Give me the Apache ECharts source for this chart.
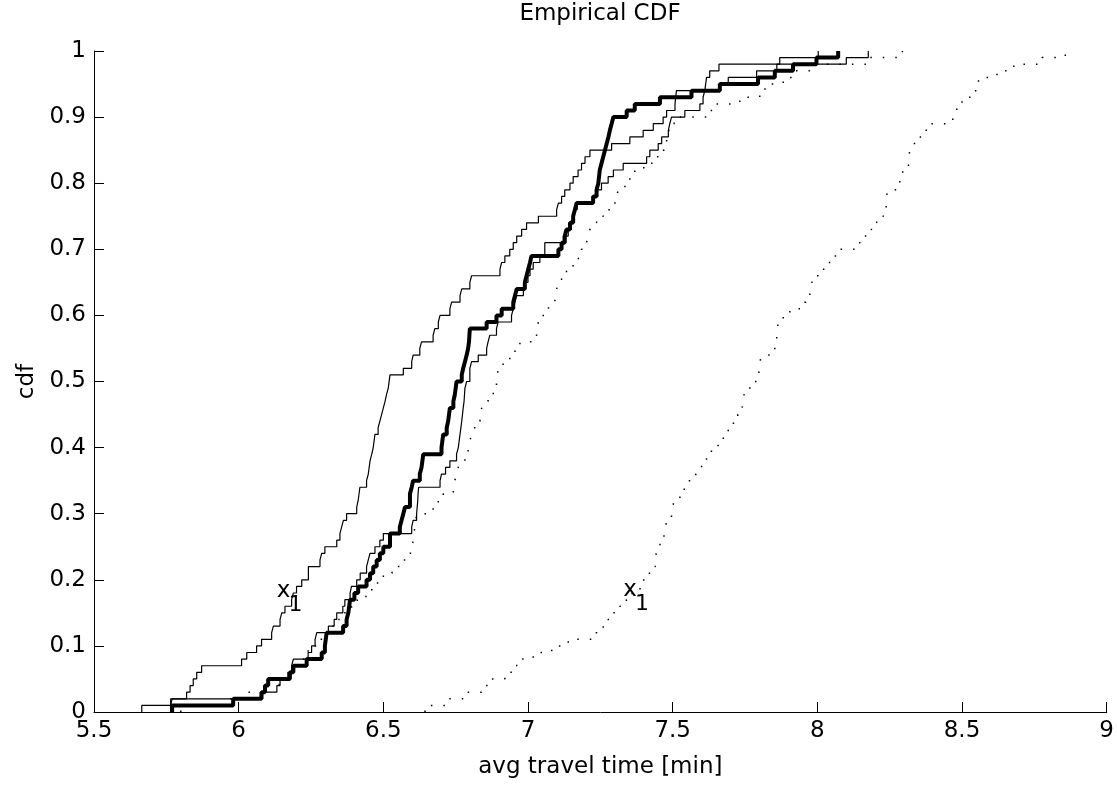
<!DOCTYPE html>
<html>
<head>
<meta charset="utf-8">
<title>Empirical CDF</title>
<script src="https://cdn.jsdelivr.net/npm/echarts@6/dist/echarts.min.js"></script>
<style>
  html, body { margin: 0; padding: 0; background: #fff; }
  #chart { width: 1117px; height: 785px; }
</style>
</head>
<body>
<div id="chart"></div>
<script>
// step corners [x, F(x)], one array per curve
const thinLeft = [
  [5.665,0.01],[5.765,0.02],[5.82,0.03],[5.832,0.04],[5.843,0.05],[5.855,0.06],[5.872,0.07],[6.01,0.08],
  [6.028,0.09],[6.062,0.10],[6.079,0.11],[6.114,0.12],[6.12,0.13],[6.143,0.14],[6.149,0.15],[6.16,0.16],
  [6.183,0.17],[6.189,0.18],[6.2,0.19],[6.218,0.20],[6.241,0.22],[6.281,0.23],[6.287,0.24],[6.298,0.25],
  [6.339,0.26],[6.35,0.27],[6.356,0.28],[6.362,0.29],[6.373,0.30],[6.408,0.31],[6.413,0.32],[6.419,0.34],
  [6.442,0.35],[6.448,0.36],[6.454,0.38],[6.46,0.39],[6.465,0.40],[6.471,0.42],[6.482,0.43],[6.488,0.44],
  [6.494,0.45],[6.5,0.46],[6.506,0.47],[6.511,0.48],[6.517,0.49],[6.523,0.51],[6.569,0.52],[6.598,0.53],
  [6.603,0.54],[6.626,0.55],[6.632,0.56],[6.672,0.57],[6.678,0.58],[6.69,0.59],[6.696,0.60],[6.73,0.61],
  [6.736,0.62],[6.765,0.63],[6.771,0.64],[6.799,0.65],[6.805,0.66],[6.903,0.67],[6.909,0.68],[6.92,0.69],
  [6.937,0.70],[6.949,0.71],[6.961,0.72],[6.978,0.73],[6.995,0.74],[7.036,0.75],[7.099,0.76],[7.105,0.77],
  [7.116,0.78],[7.127,0.79],[7.145,0.80],[7.156,0.81],[7.173,0.82],[7.185,0.83],[7.197,0.84],[7.214,0.85],
  [7.289,0.86],[7.352,0.87],[7.398,0.88],[7.433,0.89],[7.467,0.90],[7.479,0.91],[7.508,0.92],[7.513,0.94],
  [7.663,0.95],[7.692,0.96],[7.79,0.97],[7.86,0.98],[8.10,0.99],[8.176,1.0]
];
const thickMain = [
  [5.77,0.01],[5.981,0.02],[6.079,0.03],[6.091,0.04],[6.102,0.05],[6.177,0.06],[6.189,0.07],[6.235,0.08],
  [6.287,0.09],[6.298,0.10],[6.301,0.11],[6.304,0.12],[6.361,0.13],[6.373,0.14],[6.379,0.15],[6.382,0.16],
  [6.385,0.17],[6.40,0.18],[6.413,0.19],[6.442,0.20],[6.454,0.21],[6.465,0.22],[6.477,0.23],[6.488,0.24],
  [6.50,0.25],[6.523,0.27],[6.557,0.28],[6.563,0.29],[6.569,0.30],[6.575,0.31],[6.592,0.33],[6.598,0.34],
  [6.603,0.35],[6.626,0.36],[6.632,0.37],[6.638,0.39],[6.701,0.40],[6.707,0.42],[6.719,0.43],[6.724,0.44],
  [6.73,0.46],[6.742,0.47],[6.747,0.48],[6.753,0.50],[6.771,0.51],[6.776,0.52],[6.782,0.53],[6.788,0.54],
  [6.793,0.55],[6.796,0.56],[6.799,0.58],[6.857,0.59],[6.891,0.60],[6.909,0.61],[6.949,0.62],[6.955,0.63],
  [6.961,0.64],[6.989,0.65],[6.995,0.66],[7.001,0.67],[7.007,0.68],[7.012,0.69],[7.105,0.70],[7.116,0.71],
  [7.127,0.72],[7.133,0.73],[7.145,0.74],[7.156,0.75],[7.162,0.76],[7.168,0.77],[7.225,0.78],[7.237,0.79],
  [7.243,0.80],[7.248,0.82],[7.254,0.83],[7.26,0.84],[7.266,0.85],[7.272,0.86],[7.278,0.87],[7.283,0.88],
  [7.289,0.89],[7.295,0.90],[7.341,0.91],[7.369,0.92],[7.456,0.93],[7.565,0.94],[7.663,0.95],[7.795,0.96],
  [7.853,0.97],[7.916,0.98],[7.997,0.99],[8.072,1.0]
];
const thinNear = [
  [5.765,0.01],[5.77,0.02],[6.075,0.03],[6.132,0.04],[6.143,0.05],[6.17,0.06],[6.183,0.07],[6.189,0.08],
  [6.24,0.09],[6.252,0.10],[6.264,0.11],[6.27,0.12],[6.31,0.13],[6.33,0.14],[6.339,0.15],[6.36,0.16],
  [6.367,0.17],[6.385,0.18],[6.39,0.19],[6.408,0.20],[6.42,0.21],[6.442,0.22],[6.448,0.23],[6.454,0.24],
  [6.471,0.25],[6.488,0.26],[6.50,0.27],[6.598,0.28],[6.603,0.29],[6.615,0.30],[6.617,0.31],[6.619,0.32],
  [6.62,0.33],[6.622,0.34],[6.696,0.35],[6.701,0.36],[6.715,0.37],[6.73,0.38],[6.753,0.39],[6.759,0.40],
  [6.765,0.42],[6.771,0.44],[6.776,0.46],[6.779,0.47],[6.782,0.49],[6.788,0.50],[6.799,0.52],[6.805,0.53],
  [6.828,0.54],[6.857,0.55],[6.862,0.56],[6.868,0.57],[6.891,0.58],[6.897,0.59],[6.943,0.60],[6.949,0.61],
  [6.955,0.62],[6.961,0.63],[6.984,0.64],[6.99,0.65],[7.0,0.66],[7.007,0.67],[7.018,0.68],[7.041,0.69],
  [7.058,0.71],[7.122,0.72],[7.139,0.73],[7.15,0.74],[7.156,0.75],[7.162,0.76],[7.17,0.77],[7.225,0.78],
  [7.24,0.79],[7.254,0.80],[7.277,0.81],[7.295,0.82],[7.329,0.83],[7.41,0.84],[7.421,0.85],[7.45,0.86],
  [7.462,0.87],[7.485,0.88],[7.49,0.89],[7.496,0.90],[7.542,0.91],[7.594,0.92],[7.605,0.93],[7.611,0.94],
  [7.614,0.95],[7.617,0.96],[7.628,0.97],[7.66,0.98],[7.87,0.99],[8.003,1.0]
];
const dotNear = [
  [5.80,0.01],[5.96,0.02],[6.03,0.03],[6.10,0.04],[6.14,0.05],[6.17,0.06],[6.19,0.07],[6.21,0.08],
  [6.225,0.09],[6.24,0.10],[6.27,0.11],[6.29,0.12],[6.31,0.13],[6.34,0.14],[6.36,0.15],[6.39,0.16],
  [6.41,0.17],[6.44,0.18],[6.46,0.19],[6.48,0.20],[6.50,0.21],[6.53,0.22],[6.557,0.23],[6.58,0.24],
  [6.598,0.25],[6.604,0.26],[6.606,0.27],[6.609,0.28],[6.612,0.29],[6.615,0.30],[6.672,0.31],[6.69,0.32],
  [6.707,0.33],[6.742,0.34],[6.747,0.35],[6.753,0.36],[6.759,0.37],[6.765,0.38],[6.782,0.39],[6.793,0.40],
  [6.799,0.41],[6.805,0.42],[6.811,0.43],[6.822,0.44],[6.834,0.45],[6.84,0.46],[6.845,0.47],[6.862,0.48],
  [6.88,0.49],[6.891,0.50],[6.894,0.51],[6.897,0.52],[6.914,0.53],[6.937,0.54],[6.955,0.55],[6.972,0.56],
  [7.012,0.57],[7.03,0.58],[7.036,0.59],[7.047,0.60],[7.07,0.61],[7.076,0.62],[7.093,0.63],[7.099,0.64],
  [7.105,0.65],[7.116,0.66],[7.133,0.67],[7.156,0.68],[7.174,0.69],[7.185,0.70],[7.202,0.71],[7.208,0.72],
  [7.214,0.73],[7.22,0.74],[7.237,0.75],[7.26,0.76],[7.283,0.77],[7.306,0.78],[7.312,0.79],[7.335,0.80],
  [7.352,0.81],[7.369,0.82],[7.40,0.83],[7.44,0.84],[7.462,0.85],[7.47,0.86],[7.479,0.87],[7.487,0.88],
  [7.496,0.89],[7.505,0.90],[7.617,0.91],[7.64,0.92],[7.732,0.93],[7.801,0.94],[7.819,0.95],[7.882,0.96],
  [7.917,0.97],[7.974,0.98],[8.17,0.99],[8.294,1.0]
];
const dotFar = [
  [6.644,0.01],[6.724,0.02],[6.782,0.03],[6.839,0.04],[6.862,0.05],[6.92,0.06],[6.949,0.07],[6.961,0.08],
  [7.018,0.09],[7.082,0.10],[7.139,0.11],[7.23,0.12],[7.26,0.13],[7.277,0.14],[7.29,0.15],[7.318,0.16],
  [7.34,0.17],[7.36,0.18],[7.387,0.19],[7.40,0.20],[7.416,0.21],[7.427,0.22],[7.44,0.23],[7.443,0.24],
  [7.446,0.25],[7.456,0.26],[7.47,0.27],[7.476,0.28],[7.479,0.29],[7.496,0.30],[7.50,0.31],[7.505,0.32],
  [7.525,0.33],[7.54,0.34],[7.545,0.35],[7.58,0.36],[7.585,0.37],[7.60,0.38],[7.617,0.39],[7.634,0.40],
  [7.657,0.41],[7.675,0.42],[7.692,0.43],[7.71,0.44],[7.725,0.45],[7.74,0.46],[7.744,0.47],[7.746,0.48],
  [7.761,0.49],[7.778,0.50],[7.79,0.51],[7.798,0.52],[7.802,0.53],[7.806,0.54],[7.836,0.55],[7.859,0.56],
  [7.86,0.57],[7.862,0.58],[7.865,0.59],[7.882,0.60],[7.905,0.61],[7.945,0.62],[7.96,0.63],[7.974,0.64],
  [7.98,0.65],[7.997,0.66],[8.014,0.67],[8.032,0.68],[8.049,0.69],[8.072,0.70],[8.13,0.71],[8.153,0.72],
  [8.17,0.73],[8.187,0.74],[8.205,0.75],[8.228,0.76],[8.238,0.77],[8.24,0.78],[8.242,0.79],[8.274,0.80],
  [8.285,0.81],[8.295,0.82],[8.315,0.83],[8.316,0.84],[8.32,0.85],[8.326,0.86],[8.344,0.87],[8.361,0.88],
  [8.384,0.89],[8.468,0.90],[8.474,0.91],[8.482,0.92],[8.50,0.93],[8.54,0.94],[8.55,0.95],[8.557,0.96],
  [8.621,0.97],[8.679,0.98],[8.777,0.99],[8.857,1.0]
];

// where the two "x1" annotations sit
const labelAnchors = [[6.157, 0.182], [7.354, 0.184]];

const FONT = 'DejaVu Sans';

// each ECDF starts on the axis at its first jump
function ecdf(pts) {
  return [[pts[0][0], 0]].concat(pts);
}

function stepLine(pts, style) {
  return {
    type: 'line',
    step: 'end',
    data: ecdf(pts),
    showSymbol: false,
    silent: true,
    lineStyle: style
  };
}

function annotation(text, offset, size) {
  return {
    type: 'scatter',
    data: labelAnchors,
    symbolSize: 1,
    silent: true,
    itemStyle: { color: 'transparent', opacity: 1 },
    label: {
      show: true,
      position: [0, 0],
      offset: offset,
      align: 'center',
      verticalAlign: 'middle',
      formatter: text,
      fontFamily: FONT,
      fontSize: size,
      color: '#000',
      opacity: 1,
      textBorderWidth: 0
    }
  };
}

const chart = echarts.init(document.getElementById('chart'));
chart.setOption({
  animation: false,
  backgroundColor: '#fff',
  textStyle: { fontFamily: FONT },
  title: {
    text: 'Empirical CDF',
    left: 600,
    top: 3,
    padding: 0,
    textAlign: 'center',
    textStyle: { fontFamily: FONT, fontSize: 23, fontWeight: 'normal', color: '#000' }
  },
  grid: { left: 94, right: 10, top: 51, bottom: 73, containLabel: false },
  xAxis: {
    type: 'value',
    min: 5.5,
    max: 9,
    interval: 0.5,
    name: 'avg travel time [min]',
    nameLocation: 'middle',
    nameGap: 44,
    nameTextStyle: { fontFamily: FONT, fontSize: 23, color: '#000' },
    axisLine: { lineStyle: { color: '#000', width: 1 } },
    axisTick: { inside: true, length: 10, lineStyle: { color: '#000' } },
    axisLabel: { fontFamily: FONT, fontSize: 23, color: '#000', margin: 8 },
    splitLine: { show: false }
  },
  yAxis: {
    type: 'value',
    min: 0,
    max: 1,
    interval: 0.1,
    name: 'cdf',
    nameLocation: 'middle',
    nameGap: 54,
    nameTextStyle: { fontFamily: FONT, fontSize: 23, color: '#000' },
    axisLine: { show: true, lineStyle: { color: '#000', width: 1 } },
    axisTick: { show: true, inside: true, length: 10, lineStyle: { color: '#000' } },
    axisLabel: { fontFamily: FONT, fontSize: 23, color: '#000', margin: 8 },
    splitLine: { show: false }
  },
  series: [
    stepLine(dotFar, { color: '#000', width: 1.5, type: [1.5, 11] }),
    stepLine(dotNear, { color: '#000', width: 1.5, type: [1.5, 11] }),
    stepLine(thickMain, { color: '#000', width: 4 }),
    stepLine(thinLeft, { color: '#000', width: 1.2 }),
    stepLine(thinNear, { color: '#000', width: 1.2 }),
    annotation('x', [0, 0], 23),
    annotation('1', [12, 14], 22)
  ]
});
</script>
</body>
</html>
